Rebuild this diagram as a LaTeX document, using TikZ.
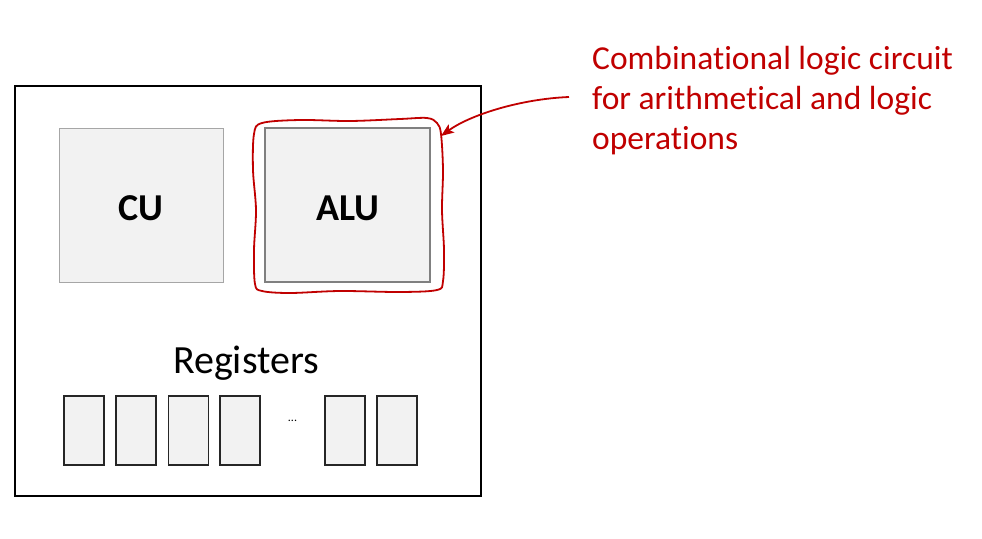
\documentclass[tikz,border=0pt]{standalone}
\usepackage{fontspec}
\setmainfont{Carlito}[Ligatures={NoCommon}]
\usetikzlibrary{arrows.meta}
\definecolor{boxfill}{HTML}{F2F2F2}
\definecolor{darkred}{HTML}{C00000}
\definecolor{cugray}{HTML}{A6A6A6}
\definecolor{alugray}{HTML}{808080}
\tikzset{
  unitbox/.style={draw=cugray, line width=1pt, fill=boxfill, inner sep=0pt, minimum width=164pt, minimum height=154pt},
  regbox/.style={draw=black!85, line width=1.3pt, fill=boxfill, inner sep=0pt, minimum width=40pt, minimum height=69pt},
  bigbold/.style={font=\fontsize{38}{40}\selectfont\bfseries},
  notetext/.style={text=darkred, font=\fontsize{33.5}{40}\selectfont, anchor=base west, inner sep=0pt},
}
\begin{document}
\begin{tikzpicture}[x=1pt, y=-1pt]
\useasboundingbox (0,0) rectangle (982,538);
% outer box
\node[draw=black, line width=1.3pt, inner sep=0pt, minimum width=466pt, minimum height=410pt] (cpu) at (248,291) {};
% units
\node[unitbox] (cu) at (141,205) {};
\node[bigbold] (cutext) at (141,208) {CU};
\node[unitbox, draw=alugray, line width=2.2pt, minimum width=165pt] (alu) at (347.5,205) {};
\node[bigbold] (alutext) at (347.5,208) {ALU};
% registers
\node[font=\fontsize{40}{42}\selectfont] (reglabel) at (246,363) {Registers};
\node[regbox] (r1) at (84,430.5) {};
\node[regbox] (r2) at (136,430.5) {};
\node[regbox] (r3) at (188.5,430.5) {};
\node[regbox] (r4) at (240,430.5) {};
\node[font=\fontsize{12}{12}\selectfont] (dots) at (292.5,421) {...};
\node[regbox] (r5) at (345,430.5) {};
\node[regbox] (r6) at (397,430.5) {};
% hand-drawn red outline around ALU
\draw[darkred, line width=1.8pt] plot[smooth cycle, tension=0.55] coordinates {
  (262,123) (300,120) (350,121) (400,119) (427,118) (437,123) (441,134)
  (443,170) (442,210) (444,250) (443,281) (437,290) (400,292) (340,291)
  (290,293) (262,291) (255,284) (254,250) (256,210) (253,170) (254,134)};
\coordinate (outlinetip) at (441,136);
% note text
\node[notetext] (note1) at (592,69) {Combinational logic circuit};
\node[notetext] (note2) at (592,109) {for arithmetical and logic};
\node[notetext] (note3) at (592,149) {operations};
\coordinate (arrowstart) at (569,97);
\draw[darkred, line width=1.8pt, -{Stealth[length=13pt, width=10pt, inset=3pt]}]
  (arrowstart) .. controls (520,99) and (470,115) .. (outlinetip);
\end{tikzpicture}
\end{document}
